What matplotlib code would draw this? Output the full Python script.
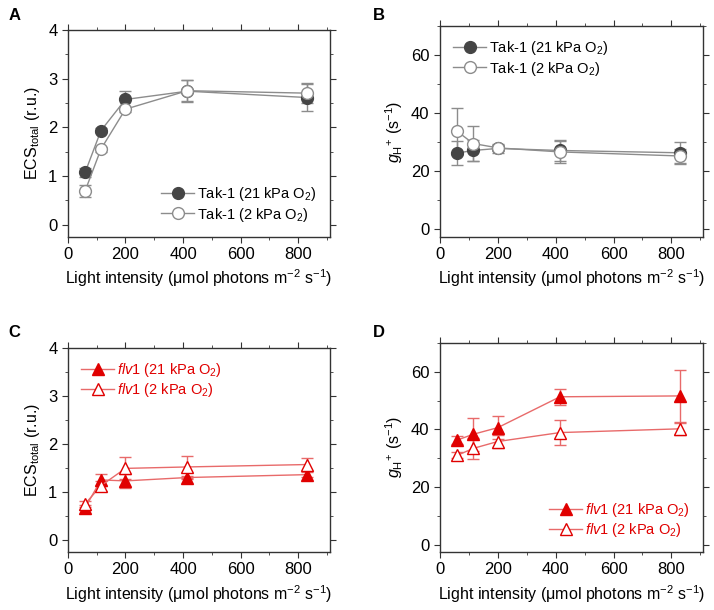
import matplotlib.pyplot as plt
from matplotlib.ticker import MultipleLocator

plt.rcParams['font.family'] = ['Liberation Sans', 'DejaVu Sans']
plt.rcParams['mathtext.fontset'] = 'custom'
plt.rcParams['mathtext.rm'] = 'Liberation Sans'
plt.rcParams['mathtext.it'] = 'Liberation Sans:italic'
plt.rcParams['mathtext.bf'] = 'Liberation Sans:bold'

light = [60, 115, 200, 415, 830]

# A: ECS total, Tak-1
ecs_tak_21 = [1.07, 1.93, 2.57, 2.74, 2.61]
ecs_tak_21_err = [0.10, 0.05, 0.17, 0.22, 0.27]
ecs_tak_2 = [0.69, 1.55, 2.37, 2.75, 2.70]
ecs_tak_2_err = [0.13, 0.05, 0.05, 0.22, 0.20]

# B: gH+, Tak-1
gh_tak_21 = [26.3, 27.2, 27.9, 27.2, 26.4]
gh_tak_21_err = [4.0, 3.5, 1.5, 3.5, 3.7]
gh_tak_2 = [33.8, 29.6, 28.1, 26.7, 25.3]
gh_tak_2_err = [8.2, 6.0, 1.0, 3.8, 2.5]

# C: ECS total, flv1
ecs_flv_21 = [0.67, 1.25, 1.23, 1.30, 1.36]
ecs_flv_21_err = [0.05, 0.13, 0.15, 0.04, 0.05]
ecs_flv_2 = [0.75, 1.13, 1.49, 1.52, 1.57]
ecs_flv_2_err = [0.06, 0.10, 0.23, 0.23, 0.13]

# D: gH+, flv1
gh_flv_21 = [36.3, 38.3, 40.6, 51.3, 51.6]
gh_flv_21_err = [1.5, 5.7, 4.0, 2.8, 9.0]
gh_flv_2 = [31.0, 33.4, 35.8, 38.9, 40.2]
gh_flv_2_err = [1.0, 3.7, 2.3, 4.2, 2.0]

grey_dark = '#454545'
grey_line = '#8c8c8c'
red = '#e00000'
red_line = '#e86a6a'

xlabel = r'Light intensity (μmol photons m$^{-2}$ s$^{-1}$)'
ecs_label = r'ECS$_{\mathrm{total}}$ (r.u.)'
gh_label = r'$g_{\mathrm{H}}$$^{+}$ (s$^{-1}$)'

fig = plt.figure(figsize=(7.14, 6.10), dpi=100)
axA = fig.add_axes([0.095, 0.612, 0.367, 0.339])
axB = fig.add_axes([0.616, 0.612, 0.369, 0.345])
axC = fig.add_axes([0.095, 0.095, 0.367, 0.335])
axD = fig.add_axes([0.616, 0.095, 0.369, 0.343])


def series(ax, y, yerr, marker, mfc, mec, lc):
    c = ax.errorbar(light, y, yerr=yerr, marker=marker, ms=8.5, mfc=mfc, mec=mec,
                    mew=1.0, color=lc, lw=1.0, ecolor=lc, elinewidth=1.0,
                    capsize=4, capthick=1.0)
    return c[0]


def style(ax, ylim, ymaj, ymin, ylabel):
    ax.set_xlim(0, 910)
    ax.set_ylim(*ylim)
    ax.xaxis.set_major_locator(MultipleLocator(200))
    ax.xaxis.set_minor_locator(MultipleLocator(100))
    ax.yaxis.set_major_locator(MultipleLocator(ymaj))
    ax.yaxis.set_minor_locator(MultipleLocator(ymin))
    ax.tick_params(which='both', direction='out', top=True, right=True,
                   labelsize=12, color='#333333')
    ax.tick_params(which='major', length=4)
    ax.tick_params(which='minor', length=2.5)
    for s in ax.spines.values():
        s.set_color('#333333')
        s.set_linewidth(1.0)
    ax.set_xlabel(xlabel, fontsize=11.5, labelpad=4)
    ax.set_ylabel(ylabel, fontsize=11.5, labelpad=4)


def legend(ax, handles, labels, loc, color=None):
    leg = ax.legend(handles, labels, loc=loc, frameon=False, fontsize=10.5,
                    handlelength=2.3, handletextpad=0.2, borderaxespad=0.5,
                    labelspacing=0.15)
    if color:
        for t in leg.get_texts():
            t.set_color(color)


tak_labels = [r'Tak-1 (21 kPa O$_2$)', r'Tak-1 (2 kPa O$_2$)']
flv_labels = [r'$\mathit{flv1}$ (21 kPa O$_2$)', r'$\mathit{flv1}$ (2 kPa O$_2$)']

h1 = series(axA, ecs_tak_21, ecs_tak_21_err, 'o', grey_dark, grey_dark, grey_line)
h2 = series(axA, ecs_tak_2, ecs_tak_2_err, 'o', 'white', grey_line, grey_line)
style(axA, (-0.25, 4), 1, 0.5, ecs_label)
legend(axA, [h1, h2], tak_labels, 'lower right')

h1 = series(axB, gh_tak_21, gh_tak_21_err, 'o', grey_dark, grey_dark, grey_line)
h2 = series(axB, gh_tak_2, gh_tak_2_err, 'o', 'white', grey_line, grey_line)
style(axB, (-2.5, 70), 20, 10, gh_label)
legend(axB, [h1, h2], tak_labels, 'upper left')

h1 = series(axC, ecs_flv_21, ecs_flv_21_err, '^', red, red, red_line)
h2 = series(axC, ecs_flv_2, ecs_flv_2_err, '^', 'white', red, red_line)
style(axC, (-0.25, 4), 1, 0.5, ecs_label)
legend(axC, [h1, h2], flv_labels, 'upper left', red)

h1 = series(axD, gh_flv_21, gh_flv_21_err, '^', red, red, red_line)
h2 = series(axD, gh_flv_2, gh_flv_2_err, '^', 'white', red, red_line)
style(axD, (-2.5, 70), 20, 10, gh_label)
legend(axD, [h1, h2], flv_labels, 'lower right', red)

for lab, (x, y) in zip('ABCD', [(0.012, 0.975), (0.522, 0.975),
                                (0.012, 0.455), (0.522, 0.455)]):
    fig.text(x, y, lab, fontsize=12, fontweight='bold', va='center', ha='left')

fig.savefig('out.png', dpi=100)
